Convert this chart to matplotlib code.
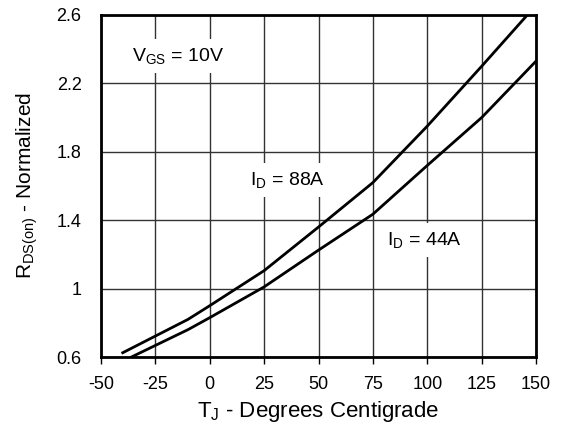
import matplotlib
matplotlib.use("Agg")
import matplotlib.pyplot as plt

plt.rcParams["font.family"] = ["Liberation Sans", "DejaVu Sans"]
plt.rcParams["mathtext.fontset"] = "custom"
plt.rcParams["mathtext.rm"] = "Liberation Sans"
plt.rcParams["mathtext.it"] = "Liberation Sans"
plt.rcParams["axes.unicode_minus"] = False

# junction temperature (deg C) and normalized RDS(on)
temp_88a = [-40, -10, 0, 25, 50, 75, 100, 125, 146]
rds_88a = [0.625, 0.82, 0.90, 1.105, 1.36, 1.62, 1.95, 2.30, 2.60]

temp_44a = [-36, -10, 0, 25, 50, 75, 100, 125, 150]
rds_44a = [0.60, 0.76, 0.83, 1.01, 1.225, 1.435, 1.72, 2.00, 2.33]

x_ticks = [-50, -25, 0, 25, 50, 75, 100, 125, 150]
y_ticks = [0.6, 1.0, 1.4, 1.8, 2.2, 2.6]
y_tick_labels = ["0.6", "1", "1.4", "1.8", "2.2", "2.6"]

fig = plt.figure(figsize=(5.69, 4.32), dpi=100)
ax = fig.add_axes([101 / 569, 1 - 357 / 432, 435 / 569, 342 / 432])

ax.plot(temp_88a, rds_88a, color="black", lw=2)
ax.plot(temp_44a, rds_44a, color="black", lw=2)

ax.set_xlim(-50, 150)
ax.set_ylim(0.6, 2.6)
ax.set_xticks(x_ticks)
ax.set_yticks(y_ticks)
ax.set_yticklabels(y_tick_labels)
ax.tick_params(axis="x", direction="out", length=5, width=1, labelsize=13, pad=9)
ax.tick_params(axis="y", length=0, labelsize=13, pad=14)
ax.grid(True, color="#333333", lw=1)
ax.set_axisbelow(True)
for s in ax.spines.values():
    s.set_linewidth(2)

box = dict(facecolor="white", edgecolor="none", pad=5)
ax.text(-35.7, 2.36, r"V$_{\mathrm{GS}}$ = 10V", fontsize=14, va="center", ha="left", bbox=box)
ax.text(18.5, 1.635, r"I$_{\mathrm{D}}$ = 88A", fontsize=14, va="center", ha="left", bbox=box)
ax.text(81.5, 1.284, r"I$_{\mathrm{D}}$ = 44A", fontsize=14, va="center", ha="left", bbox=box)

ax.set_xlabel(r"T$_{\mathrm{J}}$ - Degrees Centigrade", fontsize=16, labelpad=4)
ax.set_ylabel(r"R$_{\mathrm{DS(on)}}$ - Normalized", fontsize=15, labelpad=12)

fig.savefig("out.png", dpi=100)
